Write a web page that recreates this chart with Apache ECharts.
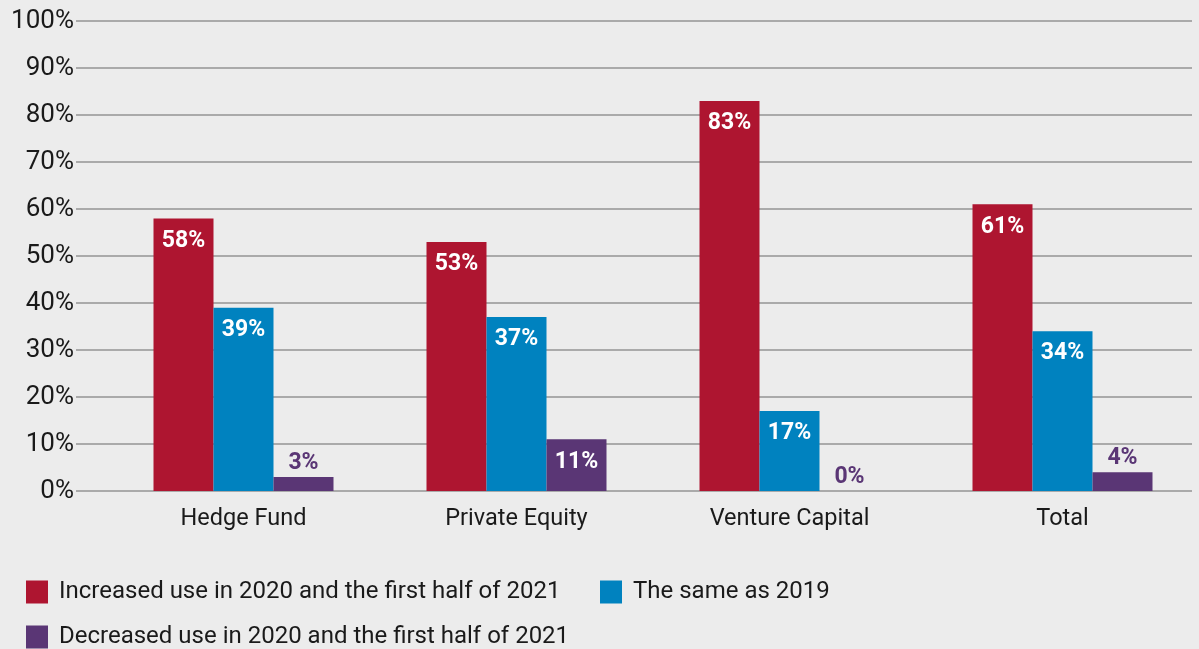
<!DOCTYPE html>
<html>
<head>
<meta charset="utf-8">
<title>Use change by fund type</title>
<script src="https://cdn.jsdelivr.net/npm/echarts@6/dist/echarts.min.js"></script>
<style>
    html, body { margin: 0; padding: 0; background: #ececec; }
    #chart { width: 1199px; height: 649px; }
</style>
</head>
<body>
<div id="chart"></div>
<script>
'use strict';

var categories = ['Hedge Fund', 'Private Equity', 'Venture Capital', 'Total'];
var seriesNames = [
    'Increased use in 2020 and the first half of 2021',
    'The same as 2019',
    'Decreased use in 2020 and the first half of 2021'
];
var increased = [58, 53, 83, 61];
var sameAs2019 = [39, 37, 17, 34];
var decreased = [3, 11, 0, 4];

var colors = ['#ae1530', '#0082bf', '#5a3675'];
var fontFamily = 'Roboto, "Liberation Sans", sans-serif';
var textColor = '#1a1a1a';

var insideLabel = {
    show: true,
    position: 'insideTop',
    distance: 11,
    color: '#fff',
    fontWeight: 'bold',
    fontSize: 23,
    fontFamily: fontFamily,
    formatter: '{c}%'
};

// small bars get their label above, in the bar colour
var buildData = function (values, color) {
    return values.map(function (v) {
        if (v >= 8) {
            return v;
        }
        return {
            value: v,
            label: {
                position: 'top',
                distance: 2,
                color: color
            }
        };
    });
};

var makeSeries = function (i, values) {
    return {
        name: seriesNames[i],
        type: 'bar',
        xAxisIndex: 1,
        yAxisIndex: 1,
        barWidth: 60,
        barGap: '0%',
        itemStyle: { color: colors[i] },
        label: insideLabel,
        data: buildData(values, colors[i])
    };
};

var legendBase = function (name, left, top) {
    return {
        data: [name],
        left: left,
        top: top,
        padding: 0,
        icon: 'rect',
        itemWidth: 22,
        itemHeight: 23,
        selectedMode: false,
        textStyle: {
            fontSize: 24,
            color: textColor,
            fontFamily: fontFamily,
            padding: [0, 0, 0, 6]
        }
    };
};

var chart = echarts.init(document.getElementById('chart'));

chart.setOption({
    backgroundColor: '#ececec',
    animation: false,
    grid: [
        { left: 76, right: 7, top: 21, bottom: 158 },
        { left: 107, right: 0, top: 21, bottom: 158 }
    ],
    legend: [
        legendBase(seriesNames[0], 26, 580),
        legendBase(seriesNames[1], 600, 580),
        legendBase(seriesNames[2], 26, 625)
    ],
    xAxis: [
        {
            type: 'category',
            gridIndex: 0,
            data: categories,
            show: false
        },
        {
            type: 'category',
            gridIndex: 1,
            data: categories,
            axisLine: { show: false },
            axisTick: { show: false },
            axisLabel: {
                margin: 16,
                fontSize: 23.5,
                color: textColor,
                fontFamily: fontFamily
            }
        }
    ],
    yAxis: [
        {
            type: 'value',
            gridIndex: 0,
            min: 0,
            max: 100,
            interval: 10,
            axisLine: { show: false },
            axisTick: { show: false },
            axisLabel: {
                margin: 2,
                fontSize: 26,
                color: textColor,
                fontFamily: fontFamily,
                formatter: '{value}%'
            },
            splitLine: { lineStyle: { color: '#949494', width: 1.5 } }
        },
        {
            type: 'value',
            gridIndex: 1,
            min: 0,
            max: 100,
            show: false
        }
    ],
    series: [
        makeSeries(0, increased),
        makeSeries(1, sameAs2019),
        makeSeries(2, decreased)
    ]
});

window.addEventListener('resize', function () {
    chart.resize();
});
</script>
</body>
</html>
